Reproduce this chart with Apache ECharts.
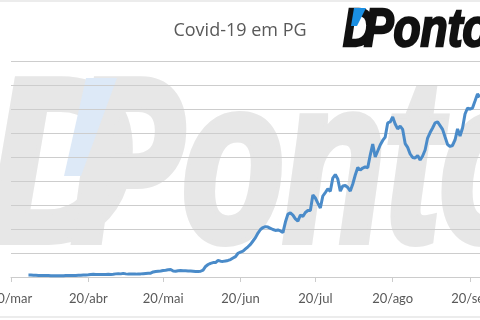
<!DOCTYPE html>
<html><head><meta charset="utf-8">
<script src="https://cdn.jsdelivr.net/npm/echarts@6/dist/echarts.min.js"></script>
<style>html,body{margin:0;padding:0;background:#fff}#c{width:480px;height:320px}</style>
</head><body><div id="c"></div>
<script>
const titleText = 'Covid-19 em PG';
const monthNames = ['jan','fev','mar','abr','mai','jun','jul','ago','set','out','nov','dez'];
const tickLabels = ['20/mar','20/abr','20/mai','20/jun','20/jul','20/ago','20/set'];
const firstDay = '2020-03-20';
const dayCount = 189;
// daily values (27/mar .. 24/set), first 7 days empty
const seriesValues = [null,null,null,null,null,null,null,
 0.8,0.8,0.75,0.7,0.65,0.6,0.6,0.6,0.6,0.55,0.55,0.5,0.5,0.55,0.55,0.6,0.6,0.65,0.6,0.65,0.7,0.75,0.8,0.85,
 0.9,1.0,1.1,1.05,1.0,1.0,1.05,1.05,1.1,1.05,1.15,1.3,1.4,1.3,1.5,1.3,1.2,1.2,1.25,1.2,
 1.3,1.3,1.4,1.5,1.6,1.6,2.1,2.3,2.4,2.5,2.7,2.8,3.0,3.1,2.5,2.4,2.6,2.7,2.65,2.6,
 2.55,2.5,2.4,2.3,2.3,2.4,2.9,4.4,5.2,5.7,6.0,6.0,6.9,6.6,6.5,6.7,6.9,7.25,7.9,8.5,
 9.9,10.4,10.8,11.7,12.6,13.6,15.0,16.4,18.3,19.8,20.6,21.0,20.8,20.3,19.8,19.4,19.6,19.2,18.5,22.9,
 26.2,26.7,25.8,24.2,23.3,25.75,25.2,26.9,27.7,27.7,34.2,32.9,30.8,28.75,33.75,35.2,36.7,35.7,41.25,42.7,
 40.8,35.8,37.9,38.1,37.3,35.8,38.75,42.5,45.6,44.6,45.4,45.9,45.5,50.8,55.4,50,52.5,55,56.9,58.3,
 64.2,64.6,66.7,63.75,61.7,62.9,61.5,55.6,54,51.25,49.8,49.6,50.6,48.75,50.4,52.9,57.9,60.2,62.1,64.2,
 64.6,63.1,61.5,58.3,55.2,54.4,54.8,57.1,61.7,58.75,62.1,67.9,70.4,70,70.4,73.3,76.25,75];

const categories = [];
{
  const d0 = new Date(firstDay + 'T12:00:00');
  for (let i = 0; i < dayCount; i++) {
    const d = new Date(d0.getTime() + i * 86400000);
    categories.push(d.getDate() + '/' + monthNames[d.getMonth()]);
  }
}
const showTick = (idx, val) => tickLabels.indexOf(val) >= 0;

const chart = echarts.init(document.getElementById('c'), null, {renderer: 'canvas'});
const wmGray = '#e7e7e7';
chart.setOption({
  animation: false,
  backgroundColor: '#ffffff',
  title: {
    text: titleText, left: 'center', top: 17,
    textStyle: {fontFamily: 'Open Sans', fontSize: 18, fontWeight: 'normal', color: '#595959'}
  },
  grid: {left: 11, right: 0, top: 61, height: 216, containLabel: false, outerBoundsMode: 'none'},
  xAxis: {
    type: 'category', data: categories, boundaryGap: false,
    axisLine: {lineStyle: {color: '#cccccc', width: 1}},
    axisTick: {show: true, interval: showTick, length: 5, lineStyle: {color: '#cccccc'}},
    axisLabel: {interval: showTick, margin: 15, fontFamily: 'Lato', fontSize: 13, color: '#595959',
      alignMinLabel: 'center', alignMaxLabel: 'center', hideOverlap: false},
    splitLine: {show: false}
  },
  yAxis: {
    type: 'value', min: 0, max: 90, interval: 10,
    axisLabel: {show: false}, axisLine: {show: false}, axisTick: {show: false},
    splitLine: {lineStyle: {color: '#cdcdcd', width: 1}}
  },
  graphic: [
    {type: 'line', z: -5, shape: {x1: 0, y1: 1, x2: 480, y2: 1}, style: {stroke: '#d9d9d9', lineWidth: 1}},
    {type: 'line', z: -5, shape: {x1: 0, y1: 317, x2: 480, y2: 317}, style: {stroke: '#d9d9d9', lineWidth: 1}},
    {type: 'text', z: -10, x: -12, y: 177, scaleX: 0.88,
      style: {text: 'D', font: 'italic bold 230px "Liberation Sans"', fill: wmGray, stroke: wmGray, lineWidth: 10,
        textAlign: 'left', textVerticalAlign: 'middle'}},
    {type: 'polygon', z: -9, shape: {points: [[86,78],[117,78],[81,176],[64,176]]}, style: {fill: '#dde9f7'}},
    {type: 'text', z: -10, x: 72, y: 177, scaleX: 0.72,
      style: {text: 'Ponto', font: 'italic bold 230px "Liberation Sans"', fill: wmGray, stroke: wmGray, lineWidth: 10,
        textAlign: 'left', textVerticalAlign: 'middle'}},
    {type: 'text', z: 50, x: 343, y: 31, scaleX: 0.8,
      style: {text: 'D', font: 'italic bold 54px "Liberation Sans"', fill: '#111111', stroke: '#111111', lineWidth: 2.5,
        textAlign: 'left', textVerticalAlign: 'middle'}},
    {type: 'polygon', z: 51, shape: {points: [[354,8],[366,8],[357,26],[351,26]]}, style: {fill: '#1a8fe3'}},
    {type: 'text', z: 50, x: 364, y: 31, scaleX: 0.82,
      style: {text: 'Ponto', font: 'italic bold 54px "Liberation Sans"', fill: '#111111', stroke: '#111111', lineWidth: 2.5,
        textAlign: 'left', textVerticalAlign: 'middle'}}
  ],
  series: [{
    type: 'line', data: seriesValues, showSymbol: false, smooth: false,
    lineStyle: {color: '#4a8bc9', width: 3}, z: 5
  }]
});
</script></body></html>
